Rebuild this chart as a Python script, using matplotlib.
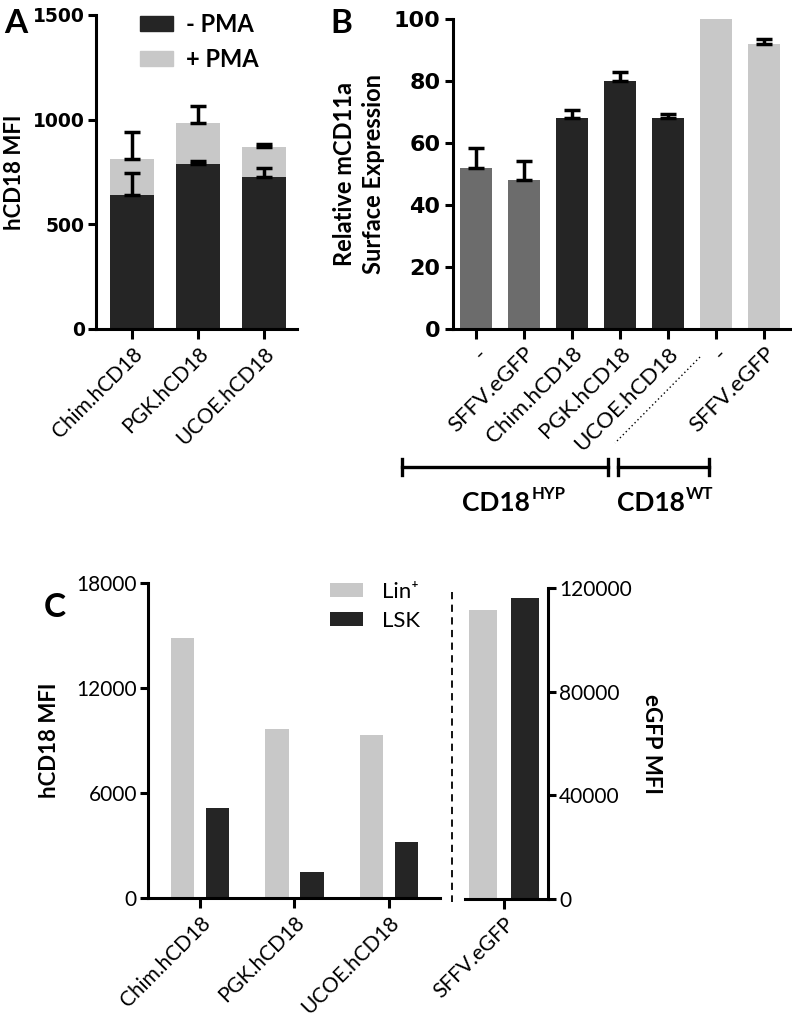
import numpy as np
import matplotlib
matplotlib.use("Agg")
import matplotlib.pyplot as plt
from matplotlib.patches import Patch
from matplotlib.lines import Line2D

plt.rcParams['font.family'] = ['Lato', 'DejaVu Sans']
plt.rcParams['axes.linewidth'] = 2.2
plt.rcParams['xtick.major.width'] = 2.2
plt.rcParams['ytick.major.width'] = 2.2
plt.rcParams['xtick.major.size'] = 7
plt.rcParams['ytick.major.size'] = 6

W, H = 792, 1024
DARK = '#252525'
MID = '#6c6c6c'
LIGHT = '#c8c8c8'

# panel A
a_labels = ['Chim.hCD18', 'PGK.hCD18', 'UCOE.hCD18']
a_minus = [640, 788, 727]
a_minus_err = [107, 16, 41]
a_plus = [810, 985, 871]
a_plus_err = [130, 80, 13]

# panel B
b_labels = ['-', 'SFFV.eGFP', 'Chim.hCD18', 'PGK.hCD18', 'UCOE.hCD18', '-', 'SFFV.eGFP']
b_values = [51.8, 48.1, 68.0, 80.0, 68.1, 100.0, 91.8]
b_err = [6.5, 6.1, 2.6, 2.9, 1.4, 0.0, 1.8]
b_groups = ['hyp_mock', 'hyp_mock', 'hyp_vec', 'hyp_vec', 'hyp_vec', 'wt', 'wt']

# panel C
c_labels = ['Chim.hCD18', 'PGK.hCD18', 'UCOE.hCD18']
c_lin = [14850, 9680, 9310]
c_lsk = [5130, 1500, 3220]
c_gfp_label = ['SFFV.eGFP']
c_gfp_lin = [111500]
c_gfp_lsk = [116000]


def ax_px(fig, left, top, right, bottom):
    return fig.add_axes([left / W, 1 - bottom / H, (right - left) / W, (bottom - top) / H])


def px(x, y):
    return x / W, 1 - y / H


def style(ax):
    ax.spines['top'].set_visible(False)
    ax.spines['right'].set_visible(False)


fig = plt.figure(figsize=(W / 100, H / 100), dpi=100)

# ---------------- A ----------------
ax = ax_px(fig, 96, 15, 297, 329)
style(ax)
xa = np.arange(len(a_labels))
ax.bar(xa, a_plus, width=0.68, color=LIGHT, zorder=1)
ax.bar(xa, a_minus, width=0.68, color=DARK, zorder=2)
ax.errorbar(xa, a_plus, yerr=[np.zeros(3), a_plus_err], fmt='none', ecolor='black',
            elinewidth=2.5, capsize=5.5, capthick=2.5, zorder=3)
ax.errorbar(xa, a_minus, yerr=[np.zeros(3), a_minus_err], fmt='none', ecolor='black',
            elinewidth=2.5, capsize=5.5, capthick=2.5, zorder=3)
ax.set_xlim(-0.545, 2.5)
ax.set_ylim(0, 1500)
ax.set_yticks([0, 500, 1000, 1500])
ax.tick_params(axis='y', labelsize=13.5, pad=2)
for t in ax.get_yticklabels():
    t.set_fontweight('bold')
    t.set_family(['DejaVu Sans'])
ax.set_xticks(xa)
ax.set_xticklabels(a_labels, rotation=45, ha='right', rotation_mode='anchor', fontsize=15)
ax.set_ylabel('hCD18 MFI', fontsize=16, fontweight='bold', labelpad=6)
ax.legend(handles=[Patch(color=DARK), Patch(color=LIGHT)], labels=['- PMA', '+ PMA'],
          loc='upper left', bbox_to_anchor=px(140, 13), bbox_transform=fig.transFigure,
          frameon=False, borderpad=0, borderaxespad=0, handlelength=1.4, handleheight=0.6,
          labelspacing=0.5, handletextpad=0.55, prop={'size': 17, 'weight': 'bold'})
fig.text(*px(4, 33), 'A', fontsize=24, fontweight='bold')

# ---------------- B ----------------
ax = ax_px(fig, 453, 19, 790, 329)
style(ax)
xb = np.arange(len(b_labels))
colors = {'hyp_mock': MID, 'hyp_vec': DARK, 'wt': LIGHT}
ax.bar(xb, b_values, width=0.67, color=[colors[g] for g in b_groups])
err_idx = [i for i, e in enumerate(b_err) if e > 0]
ax.errorbar(xb[err_idx], np.array(b_values)[err_idx],
            yerr=[np.zeros(len(err_idx)), np.array(b_err)[err_idx]],
            fmt='none', ecolor='black', elinewidth=2.5, capsize=5.5, capthick=2.5)
ax.set_xlim(-0.48, 6.54)
ax.set_ylim(0, 100)
ax.set_yticks([0, 20, 40, 60, 80, 100])
ax.tick_params(axis='y', labelsize=16, pad=3)
for t in ax.get_yticklabels():
    t.set_fontweight('bold')
    t.set_family(['DejaVu Sans'])
ax.set_xticks(xb)
ax.set_xticklabels(b_labels, rotation=45, ha='right', rotation_mode='anchor', fontsize=16)
ax.set_ylabel('Relative mCD11a\nSurface Expression', fontsize=17, fontweight='bold',
              labelpad=6, linespacing=1.35)
fig.text(*px(330, 33), 'B', fontsize=24, fontweight='bold')

# dotted separator and group brackets
fig.add_artist(Line2D([700 / W, 615 / W], [1 - 357 / H, 1 - 443 / H], color='black',
                      lw=1.0, ls=(0, (1, 2))))
for x0, x1 in [(402, 608), (618, 709)]:
    fig.add_artist(Line2D([x0 / W, x1 / W], [1 - 467 / H, 1 - 467 / H], color='black', lw=2.4))
    for xe in (x0, x1):
        fig.add_artist(Line2D([xe / W, xe / W], [1 - 459 / H, 1 - 475 / H], color='black', lw=2.4))
for xl, main, sup in [(462, 'CD18', 'HYP'), (617, 'CD18', 'WT')]:
    t = fig.text(*px(xl, 503), main, fontsize=19, fontweight='bold', ha='left', va='center')
    ax.annotate(sup, xy=(1, 1), xycoords=t, xytext=(1, -2), textcoords='offset points',
                ha='left', va='center', fontsize=12, fontweight='bold', annotation_clip=False)

# ---------------- C ----------------
ax = ax_px(fig, 148, 583, 440, 898)
style(ax)
xc = np.arange(len(c_labels))
ax.bar(xc - 0.185, c_lin, width=0.245, color=LIGHT, label='Lin\u207a')
ax.bar(xc + 0.185, c_lsk, width=0.245, color=DARK, label='LSK')
ax.set_xlim(-0.55, 2.54)
ax.set_ylim(0, 18000)
ax.set_yticks([0, 6000, 12000, 18000])
ax.tick_params(axis='y', labelsize=15, pad=2)
ax.set_xticks(xc)
ax.set_xticklabels(c_labels, rotation=45, ha='right', rotation_mode='anchor', fontsize=15)
ax.set_ylabel('hCD18 MFI', fontsize=16, fontweight='bold', labelpad=12)
ax.legend(loc='upper left', bbox_to_anchor=px(330, 582), bbox_transform=fig.transFigure,
          frameon=False, borderpad=0, borderaxespad=0, handlelength=1.5, handleheight=0.63,
          labelspacing=0.4, handletextpad=0.85, prop={'size': 16})
fig.text(*px(44, 617), 'C', fontsize=24, fontweight='bold')

fig.add_artist(Line2D([452 / W, 452 / W], [1 - 592 / H, 1 - 902 / H], color='black',
                      lw=1.3, ls=(0, (4, 3))))

ax2 = ax_px(fig, 465, 588, 548, 899)
ax2.spines['top'].set_visible(False)
ax2.spines['left'].set_visible(False)
ax2.yaxis.tick_right()
ax2.yaxis.set_label_position('right')
ax2.bar([-0.5], c_gfp_lin, width=0.67, color=LIGHT)
ax2.bar([0.5], c_gfp_lsk, width=0.67, color=DARK)
ax2.set_xlim(-0.93, 1.05)
ax2.set_ylim(0, 120000)
ax2.set_yticks([0, 40000, 80000, 120000])
ax2.tick_params(axis='y', labelsize=15, pad=2)
ax2.set_xticks([0])
ax2.set_xticklabels(c_gfp_label, rotation=45, ha='right', rotation_mode='anchor', fontsize=15)
ax2.set_ylabel('eGFP MFI', fontsize=16, fontweight='bold', rotation=270, labelpad=22)

fig.savefig('out.png', dpi=100)
